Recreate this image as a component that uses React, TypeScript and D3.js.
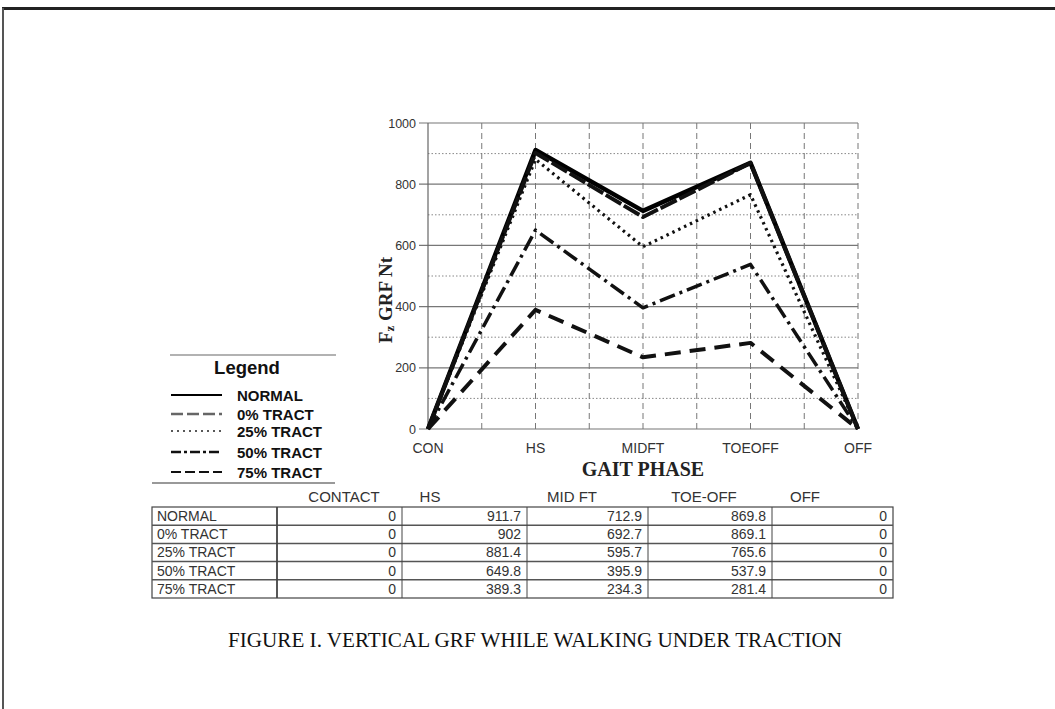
import React from "react";
import * as d3 from "d3";

const categories = ["CON", "HS", "MIDFT", "TOEOFF", "OFF"];
const tableHeaders = ["CONTACT", "HS", "MID FT", "TOE-OFF", "OFF"];
const seriesNames = ["NORMAL", "0% TRACT", "25% TRACT", "50% TRACT", "75% TRACT"];
const normal = [0, 911.7, 712.9, 869.8, 0];
const tract0 = [0, 902, 692.7, 869.1, 0];
const tract25 = [0, 881.4, 595.7, 765.6, 0];
const tract50 = [0, 649.8, 395.9, 537.9, 0];
const tract75 = [0, 389.3, 234.3, 281.4, 0];
const yTicks = [0, 200, 400, 600, 800, 1000];
const yMinorTicks = [100, 300, 500, 700, 900];

const allSeries = [normal, tract0, tract25, tract50, tract75];

const styles = [
  { w: 4.5, dash: "", color: "#000" },
  { w: 4, dash: "18,3", color: "#111" },
  { w: 3.2, dash: "2.5,4", color: "#111" },
  { w: 3.5, dash: "16,5,3,5", color: "#111" },
  { w: 4, dash: "16,9", color: "#111" },
];
const legendStyles = [
  { w: 2, dash: "", color: "#000" },
  { w: 2.5, dash: "12,4", color: "#666" },
  { w: 1.5, dash: "2,4", color: "#222" },
  { w: 2.5, dash: "10,3,3,3", color: "#111" },
  { w: 2, dash: "10,4", color: "#111" },
];

export default function App() {
  const x = d3.scaleLinear().domain([0, 4]).range([428, 858]);
  const y = d3.scaleLinear().domain([0, 1000]).range([429, 123]);
  const line = d3
    .line<number>()
    .x((_, i) => x(i))
    .y((d) => y(d));
  const halfSteps = d3.range(1, 9).map((k) => k / 2);

  const colEdges = [152, 277, 402, 527, 648, 772, 893];
  const tableTop = 507;
  const rowH = 18.2;
  const headerX = [344, 430, 572, 704, 805];
  const legendY = [395, 414, 431, 452, 472];
  const serif = "Liberation Serif, Times New Roman, serif";

  return (
    <svg
      width={1055}
      height={709}
      style={{ position: "absolute", left: 0, top: 0, background: "#fff" }}
      fontFamily="Liberation Sans, Arial, sans-serif"
    >
      <rect x={0} y={0} width={1055} height={709} fill="#fff" />
      {/* page borders */}
      <line x1={2} y1={8.5} x2={1055} y2={8.5} stroke="#222" strokeWidth={3} />
      <line x1={3} y1={8} x2={3} y2={709} stroke="#555" strokeWidth={2} />

      {/* grid */}
      {yMinorTicks.map((t) => (
        <line key={"m" + t} x1={x(0)} x2={x(4)} y1={y(t)} y2={y(t)} stroke="#888" strokeWidth={1} strokeDasharray="1.5,2" />
      ))}
      {halfSteps.map((t) => (
        <line key={"v" + t} x1={x(t)} x2={x(t)} y1={y(1000)} y2={y(0)} stroke="#777" strokeWidth={1} strokeDasharray="6,4" />
      ))}
      {yTicks.map((t) => (
        <g key={"t" + t}>
          <line x1={x(0) - 9} x2={x(4)} y1={y(t)} y2={y(t)} stroke="#777" strokeWidth={1.2} />
          <text x={x(0) - 12} y={y(t) + 4.5} textAnchor="end" fontSize={12.5} fill="#333">
            {t}
          </text>
        </g>
      ))}
      <line x1={x(0)} x2={x(0)} y1={y(1000)} y2={y(0)} stroke="#666" strokeWidth={1.2} />

      {/* series */}
      {allSeries.map((s, i) => (
        <path
          key={seriesNames[i]}
          d={line(s) || ""}
          fill="none"
          stroke={styles[i].color}
          strokeWidth={styles[i].w}
          strokeDasharray={styles[i].dash}
          strokeLinejoin="round"
        />
      ))}

      {/* x labels */}
      {categories.map((c, i) => (
        <text key={c} x={x(i)} y={453} textAnchor="middle" fontSize={14} fill="#333">
          {c}
        </text>
      ))}
      <text x={643} y={476} textAnchor="middle" fontSize={20} fontWeight="bold" fontFamily={serif} fill="#222">
        GAIT PHASE
      </text>
      <text
        transform="translate(392,300) rotate(-90)"
        textAnchor="middle"
        fontSize={19}
        fontWeight="bold"
        fontFamily={serif}
        fill="#222"
      >
        F<tspan fontSize={13} dy={2}>z</tspan>
        <tspan dy={-2}> GRF Nt</tspan>
      </text>

      {/* legend */}
      <line x1={170} x2={336} y1={355} y2={355} stroke="#999" strokeWidth={1.5} />
      <line x1={152} x2={335} y1={483} y2={483} stroke="#999" strokeWidth={2} />
      <text x={247} y={374} textAnchor="middle" fontSize={18.5} fontWeight="bold" fill="#111">
        Legend
      </text>
      {seriesNames.map((n, i) => {
        const ly = legendY[i];
        return (
          <g key={"lg" + n}>
            <line x1={171} x2={222} y1={ly} y2={ly} stroke={legendStyles[i].color} strokeWidth={legendStyles[i].w} strokeDasharray={legendStyles[i].dash} />
            <text x={237} y={ly + 5.5} fontSize={15} fontWeight="bold" fill="#111">
              {n}
            </text>
          </g>
        );
      })}

      {/* table */}
      {tableHeaders.map((h, i) => (
        <text key={"h" + h} x={headerX[i]} y={502} textAnchor="middle" fontSize={15} fill="#333">
          {h}
        </text>
      ))}
      <rect x={colEdges[0]} y={tableTop} width={colEdges[6] - colEdges[0]} height={rowH * 5} fill="none" stroke="#444" strokeWidth={1.2} />
      {d3.range(1, 5).map((r) => (
        <line key={"r" + r} x1={colEdges[0]} x2={colEdges[6]} y1={tableTop + r * rowH} y2={tableTop + r * rowH} stroke="#555" strokeWidth={1.5} />
      ))}
      {colEdges.slice(1, 6).map((cx, i) => (
        <line key={"c" + i} x1={cx} x2={cx} y1={tableTop} y2={tableTop + rowH * 5} stroke="#444" strokeWidth={i === 0 ? 1.8 : 1} />
      ))}
      {seriesNames.map((n, r) => (
        <g key={"row" + n}>
          <text x={157} y={tableTop + r * rowH + 14} fontSize={14} fill="#333">
            {n}
          </text>
          {allSeries[r].map((v, c) => (
            <text key={c} x={colEdges[c + 2] - 6} y={tableTop + r * rowH + 14} textAnchor="end" fontSize={14} fill="#333">
              {String(v)}
            </text>
          ))}
        </g>
      ))}

      {/* caption */}
      <text x={535} y={647} textAnchor="middle" fontSize={20} fontFamily={serif} fill="#111" textLength={614} lengthAdjust="spacingAndGlyphs">
        FIGURE I.  VERTICAL GRF WHILE WALKING UNDER TRACTION
      </text>
    </svg>
  );
}
